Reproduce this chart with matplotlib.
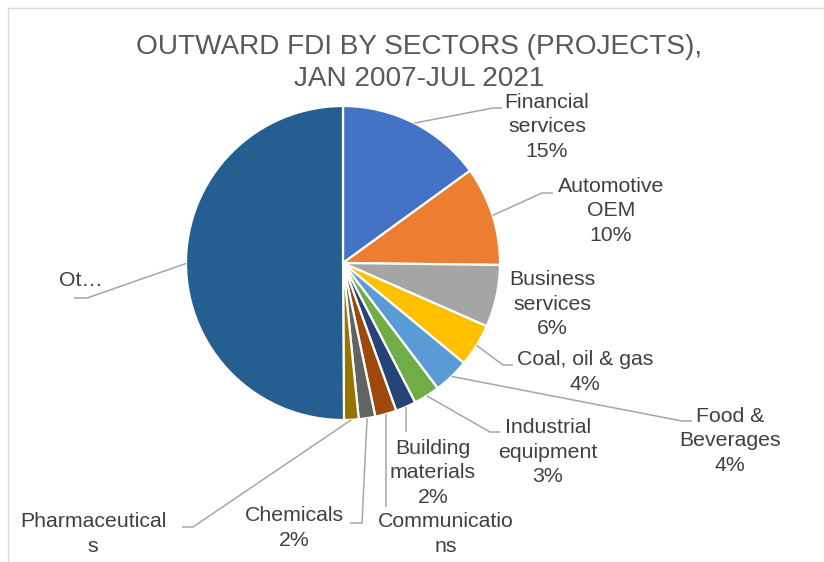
import numpy as np
import matplotlib.pyplot as plt
from matplotlib.patches import Rectangle

W, H = 824, 562

# Sector shares of outward FDI projects (%)
sectors = ["Financial services", "Automotive OEM", "Business services",
           "Coal, oil & gas", "Food & Beverages", "Industrial equipment",
           "Building materials", "Communications", "Chemicals",
           "Pharmaceuticals", "Others"]
shares = [15.0, 10.2, 6.4, 4.4, 3.7, 2.7, 2.1, 2.2, 1.7, 1.5, 50.1]

# Label text as wrapped in the chart (Others is truncated)
wrapped = ["Financial\nservices", "Automotive\nOEM", "Business\nservices",
           "Coal, oil & gas", "Food &\nBeverages", "Industrial\nequipment",
           "Building\nmaterials", "Communicatio\nns", "Chemicals",
           "Pharmaceutical\ns", "Ot…"]
# labels pushed past the bottom edge lose their percentage line
show_pct = [True, True, True, True, True, True, True, False, True, False, False]

colors = ["#4472C4", "#ED7D31", "#A5A5A5", "#FFC000", "#5B9BD5", "#70AD47",
          "#264478", "#9E480E", "#636363", "#997300", "#255E91"]

# label centre (pixels from top-left) and leader-line bends after the slice point
label_pos = [(547, 127), (611, 211), (552, 304), (585, 372), (730, 441),
             (548, 452), (433, 473), (446, 534), (294, 528), (93, 534),
             (81, 281)]
leaders = [[(493, 108), (502, 108)],
           [(542, 193), (553, 193)],
           None,
           [(503, 365), (513, 365)],
           [(682, 421), (692, 421)],
           [(490, 432), (500, 432)],
           [(406, 432)],
           [(385, 507)],
           [(362, 523), (350, 523)],
           [(193, 527), (182, 527)],
           [(87, 298), (74, 298)]]


def px(x, y):
    return x, H - y


plt.rcParams['font.family'] = ['Liberation Sans', 'DejaVu Sans']
fig = plt.figure(figsize=(W / 100, H / 100), dpi=100)
ax = fig.add_axes([0, 0, 1, 1])

center = px(343, 263)
radius = 157
wedges, _ = ax.pie(shares, colors=colors, startangle=90, counterclock=False,
                   center=center, radius=radius,
                   wedgeprops=dict(edgecolor="white", linewidth=1.6))

ax.set_xlim(0, W)
ax.set_ylim(0, H)
ax.set_aspect("equal")
ax.axis("off")

# chart area border
ax.add_patch(Rectangle(px(8, 580), 840, 572, fill=False, edgecolor="#D9D9D9",
                       linewidth=1.0, clip_on=True))

total = sum(shares)
for i, w in enumerate(wedges):
    pct = int(shares[i] / total * 100 + 0.5)
    text = f"{wrapped[i]}\n{pct}%" if show_pct[i] else wrapped[i]
    tx, ty = px(*label_pos[i])
    ax.text(tx, ty, text, ha="center", va="center", ma="center",
            fontsize=15.3, color="#404040", linespacing=1.37)
    if leaders[i]:
        mid = np.deg2rad((w.theta1 + w.theta2) / 2)
        sx = center[0] + radius * np.cos(mid)
        sy = center[1] + radius * np.sin(mid)
        pts = [(sx, sy)] + [px(*p) for p in leaders[i]]
        if len(leaders[i]) == 1:
            pts[1] = (sx, pts[1][1])
        xs, ys = zip(*pts)
        ax.plot(xs, ys, color="#A6A6A6", linewidth=1.1, solid_capstyle="butt")

ax.text(*px(419, 63), "OUTWARD FDI BY SECTORS (PROJECTS),\nJAN 2007-JUL 2021",
        ha="center", va="center", fontsize=20.2, color="#595959", linespacing=1.3)

fig.savefig("out.png", dpi=100)
